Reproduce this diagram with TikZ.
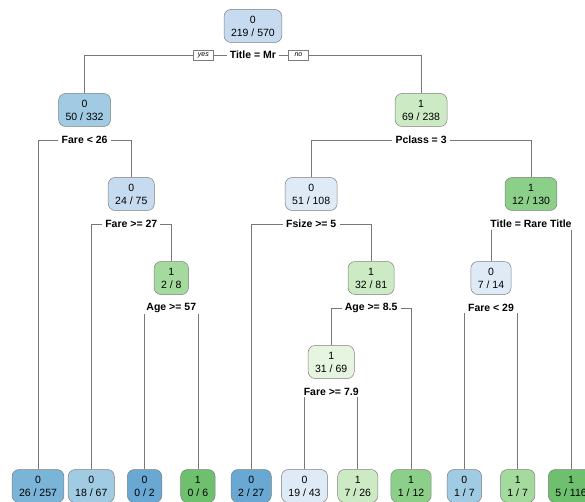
\documentclass[tikz,border=0pt]{standalone}
\usepackage{fontspec}
\setmainfont{Liberation Sans}
\usetikzlibrary{positioning}
\definecolor{boxline}{RGB}{125,125,125}
\definecolor{linegray}{RGB}{120,120,120}
\definecolor{bu1}{RGB}{222,235,247}
\definecolor{bu2}{RGB}{198,219,239}
\definecolor{bu3}{RGB}{160,203,226}
\definecolor{bu4}{RGB}{122,181,216}
\definecolor{bu5}{RGB}{104,168,210}
\definecolor{gn1}{RGB}{229,245,224}
\definecolor{gn2}{RGB}{204,235,197}
\definecolor{gn3}{RGB}{165,218,158}
\definecolor{gn4}{RGB}{140,207,137}
\definecolor{gn5}{RGB}{110,191,110}
\begin{document}
\begin{tikzpicture}[x=1pt, y=-1pt,
    box/.style = {draw=boxline, line width=0.5pt, rounded corners=7pt, align=center,
                  inner xsep=7pt, minimum height=33pt, font=\fontsize{10.5}{13}\selectfont},
    split/.style = {font=\fontsize{10.5}{13}\selectfont\bfseries, inner xsep=3pt, inner ysep=1.5pt},
    yesno/.style = {draw=boxline, fill=white, line width=0.5pt, font=\fontsize{7}{8}\selectfont\itshape,
                    minimum width=20pt, minimum height=10pt, inner sep=1pt},
    branch/.style = {draw=linegray, line width=0.8pt}]
\clip (0,0) rectangle (585,502);
% inner nodes
\node[box, fill=bu2] (1) at (252.9,26) {0\\219 / 570};
\node[box, fill=bu3] (2) at (84.6,110) {0\\50 / 332};
\node[box, fill=gn2] (3) at (421.1,110) {1\\69 / 238};
\node[box, fill=bu2] (5) at (131.3,194) {0\\24 / 75};
\node[box, fill=bu1] (6) at (311.2,194) {0\\51 / 108};
\node[box, fill=gn4] (7) at (531,194) {1\\12 / 130};
\node[box, fill=gn3] (11) at (171.3,278) {1\\2 / 8};
\node[box, fill=gn2] (13) at (371.1,278) {1\\32 / 81};
\node[box, fill=bu1] (14) at (491,278) {0\\7 / 14};
\node[box, fill=gn1] (26) at (331.2,362) {1\\31 / 69};
% leaves
\node[box, fill=bu4] (4) at (38,486) {0\\26 / 257};
\node[box, fill=bu3] (10) at (91.3,486) {0\\18 / 67};
\node[box, fill=bu5] (22) at (144.6,486) {0\\0 / 2};
\node[box, fill=gn5] (23) at (197.9,486) {1\\0 / 6};
\node[box, fill=bu5] (12) at (251.2,486) {0\\2 / 27};
\node[box, fill=bu1] (52) at (304.5,486) {0\\19 / 43};
\node[box, fill=gn2] (53) at (357.8,486) {1\\7 / 26};
\node[box, fill=gn4] (27) at (411.1,486) {1\\1 / 12};
\node[box, fill=bu3] (28) at (464.4,486) {0\\1 / 7};
\node[box, fill=gn3] (29) at (517.7,486) {1\\1 / 7};
\node[box, fill=gn5] (15) at (571,486) {1\\5 / 116};
% split labels
\node[split] (s1) at (252.9,55) {Title = Mr};
\node[yesno, left=13pt of s1] (yes) {yes};
\node[yesno, right=9pt of s1] (no) {no};
\node[split] (s2) at (84.6,140) {Fare < 26};
\node[split] (s3) at (421.1,140) {Pclass = 3};
\node[split] (s5) at (131.3,224) {Fare >= 27};
\node[split] (s6) at (311.2,224) {Fsize >= 5};
\node[split] (s7) at (531,224) {Title = Rare Title};
\node[split] (s11) at (171.3,308) {Age >= 57};
\node[split] (s13) at (371.1,308) {Age >= 8.5};
\node[split] (s14) at (491,308) {Fare < 29};
\node[split] (s26) at (331.2,392) {Fare >= 7.9};
% branches
\draw[branch] (yes.west) -| (2.north);
\draw[branch] (yes.east) -- (s1.west);
\draw[branch] (s1.east) -- (no.west);
\draw[branch] (no.east) -| (3.north);
\draw[branch] (s2.west) -| (4.north);
\draw[branch] (s2.east) -| (5.north);
\draw[branch] (s3.west) -| (6.north);
\draw[branch] (s3.east) -| (7.north);
\draw[branch] (s5.west) -| (10.north);
\draw[branch] (s5.east) -| (11.north);
\draw[branch] (s6.west) -| (12.north);
\draw[branch] (s6.east) -| (13.north);
\draw[branch] (s7.south -| 14.north) -- (14.north);
\draw[branch] (s7.south -| 15.north) -- (15.north);
\draw[branch] (s11.south -| 22.north) -- (22.north);
\draw[branch] (s11.south -| 23.north) -- (23.north);
\draw[branch] (s13.west) -| (26.north);
\draw[branch] (s13.east) -| (27.north);
\draw[branch] (s14.south -| 28.north) -- (28.north);
\draw[branch] (s14.south -| 29.north) -- (29.north);
\draw[branch] (s26.south -| 52.north) -- (52.north);
\draw[branch] (s26.south -| 53.north) -- (53.north);
\end{tikzpicture}
\end{document}
